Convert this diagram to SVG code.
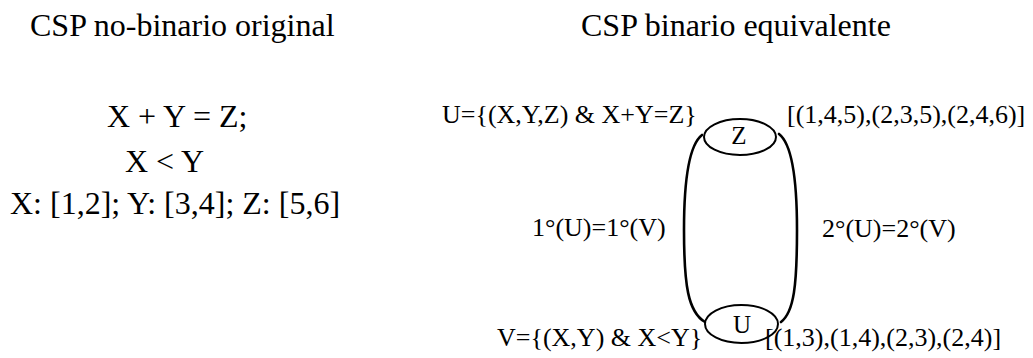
<svg xmlns="http://www.w3.org/2000/svg" width="1033" height="358" viewBox="0 0 1033 358">
<style>
text{font-family:"Liberation Serif","Times New Roman",serif;fill:#000}
.t{font-size:32px}
.l{font-size:26px}
.n{font-size:25px;text-anchor:middle}
.node{fill:#fff;stroke:#000;stroke-width:2}
.edge{fill:none;stroke:#000;stroke-width:2.6;stroke-linecap:round}
</style>
<rect width="1033" height="358" fill="#fff"/>
<g id="titles">
<text class="t" x="30" y="36">CSP no-binario original</text>
<text class="t" x="581" y="36">CSP binario equivalente</text>
</g>
<g id="original">
<text class="t" x="107" y="127">X + Y = Z;</text>
<text class="t" x="125" y="172">X &lt; Y</text>
<text class="t" x="10" y="214">X: [1,2]; Y: [3,4]; Z: [5,6]</text>
</g>
<g id="connectors">
<path class="edge" d="M702,135 C689,145 684,180 684,230 C684,285 688,312 705,322"/>
<path class="edge" d="M779,134 C792,144 797,180 797,230 C797,285 794,312 781,322"/>
</g>
<g id="node-Z">
<ellipse class="node" cx="740" cy="137" rx="36" ry="18"/>
<text class="n" x="739" y="144">Z</text>
</g>
<g id="node-U">
<ellipse class="node" cx="741.5" cy="324" rx="36.5" ry="19"/>
<text class="n" x="742" y="333">U</text>
</g>
<g id="labels">
<text class="l" x="442" y="123">U={(X,Y,Z) &amp; X+Y=Z}</text>
<text class="l" x="787" y="123">[(1,4,5),(2,3,5),(2,4,6)]</text>
<text class="l" x="532" y="236">1°(U)=1°(V)</text>
<text class="l" x="822" y="237">2°(U)=2°(V)</text>
<text class="l" x="497" y="346">V={(X,Y) &amp; X&lt;Y}</text>
<text class="l" x="765" y="346">[(1,3),(1,4),(2,3),(2,4)]</text>
</g>
</svg>
